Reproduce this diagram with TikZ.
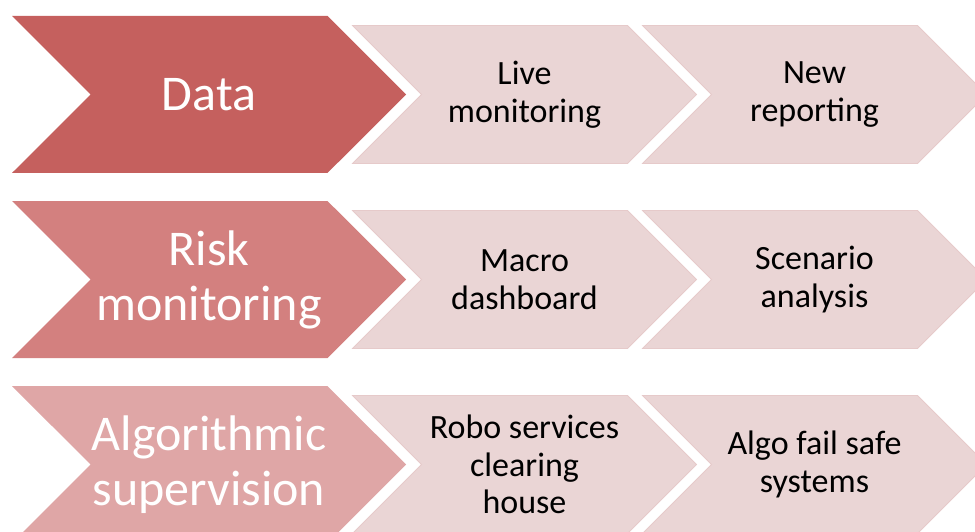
\documentclass[tikz,border=0pt]{standalone}
\usepackage{fontspec}
\setmainfont{Carlito}
\usetikzlibrary{shapes.symbols}
\definecolor{rowone}{HTML}{C5605E}
\definecolor{rowtwo}{HTML}{D3807F}
\definecolor{rowthree}{HTML}{DFA6A6}
\definecolor{stepfill}{HTML}{EAD5D5}
\definecolor{stepedge}{HTML}{E6CACA}

\begin{document}
\begin{tikzpicture}[
  x=1pt, y=-1pt,
  bigstep/.style={signal, signal from=west, signal to=east, signal pointer angle=90, fill=#1, draw=none, minimum width=394pt, minimum height=157pt, inner sep=0pt, outer sep=0pt, align=center, text=white, font=\fontsize{50}{55}\selectfont},
  smallstep/.style={signal, signal from=west, signal to=east, signal pointer angle=90, fill=stepfill, draw=stepedge, line width=0.8pt, minimum width=344pt, minimum height=138pt, inner sep=0pt, outer sep=0pt, align=center, text=black, font=\fontsize{34}{37.5}\selectfont},
]
\useasboundingbox (0,0) rectangle (975,532);
\clip (0,0) rectangle (975,532);

% Row 1
\node[bigstep=rowone] (data) at (209, 94.5) {Data};
\node[smallstep] (live) at (524.5, 94.5) {Live\\monitoring};
\node[smallstep] (newrep) at (814.5, 94.5) {New\\reporting};

% Row 2
\node[bigstep=rowtwo] (risk) at (209, 279.5) {Risk\\monitoring};
\node[smallstep] (macro) at (524.5, 279.5) {Macro\\dashboard};
\node[smallstep] (scenario) at (814.5, 279.5) {Scenario\\analysis};

% Row 3
\node[bigstep=rowthree] (algo) at (209, 464.5) {Algorithmic\\supervision};
\node[smallstep] (robo) at (524.5, 464.5) {Robo services\\clearing\\house};
\node[smallstep] (failsafe) at (814.5, 464.5) {Algo fail safe\\systems};

\end{tikzpicture}
\end{document}
